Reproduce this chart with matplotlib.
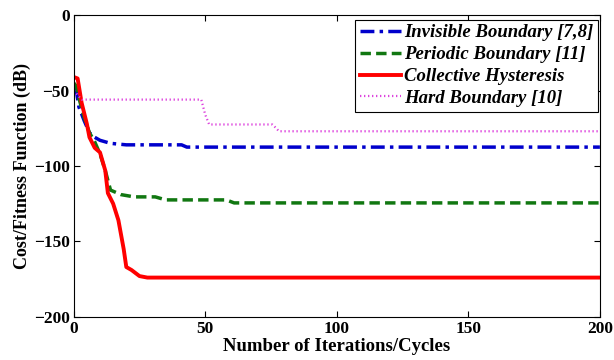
import matplotlib
matplotlib.use("Agg")
import matplotlib.pyplot as plt

# Invisible Boundary [7,8]
inv_x = [0, 1, 2, 4, 6, 8, 10, 14, 20, 30, 41, 43, 200]
inv_y = [-48, -50, -61, -70, -78, -81, -83, -85, -86, -86, -86, -87.5, -87.5]

# Periodic Boundary [11]
per_x = [0, 1, 2, 4, 6, 8, 10, 12, 14, 18, 23, 31, 35, 58, 61, 200]
per_y = [-45, -47, -55, -68, -78, -84, -92, -103, -116, -119, -120.5, -120.5, -122.5, -122.5, -124.5, -124.5]

# Collective Hysteresis
col_x = [0, 1.5, 3, 5, 6, 8, 10, 12, 13, 15, 17, 19, 20, 22, 25, 28, 60, 200]
col_y = [-41, -42, -58, -72, -81, -88, -91, -103, -118, -125, -136, -155, -167, -169, -173, -174, -174, -174]

# Hard Boundary [10]
hard_x = [0, 1, 3, 5, 48.5, 50, 51.5, 75.5, 77, 78, 200]
hard_y = [-50, -52, -56, -56, -56, -66, -72.5, -72.5, -75, -77, -77]

labels = ["Invisible Boundary [7,8]", "Periodic Boundary [11]",
          "Collective Hysteresis", "Hard Boundary [10]"]

serif = ["Liberation Serif", "DejaVu Serif"]

fig, ax = plt.subplots(figsize=(6.14, 3.6), dpi=100)
fig.subplots_adjust(left=0.12, right=0.977, top=0.958, bottom=0.12)

ax.plot(inv_x, inv_y, color="#0000cc", linestyle=(0, (4, 1.5, 1, 1.5)), linewidth=2.5, label=labels[0])
ax.plot(per_x, per_y, color="#117711", linestyle=(0, (3, 1.5)), linewidth=2.5, label=labels[1])
ax.plot(col_x, col_y, color="#ff0000", linestyle="-", linewidth=2.8, label=labels[2])
ax.plot(hard_x, hard_y, color="#dd44dd", linestyle=(0, (0.6, 1.2)), linewidth=1.6, label=labels[3])

ax.set_xlim(0, 200)
ax.set_ylim(-200, 0)
ax.set_xticks([0, 50, 100, 150, 200])
ax.set_yticks([0, -50, -100, -150, -200])
ax.tick_params(direction="in", top=True, right=True, length=4, width=0.8, pad=3)
for lab in ax.get_xticklabels() + ax.get_yticklabels():
    lab.set_family(serif)
    lab.set_fontweight("bold")
    lab.set_fontsize(12.5)

ax.set_xlabel("Number of Iterations/Cycles", family=serif, fontweight="bold", fontsize=13.5, labelpad=1)
ax.set_ylabel("Cost/Fitness Function (dB)", family=serif, fontweight="bold", fontsize=13, labelpad=2)

leg = ax.legend(loc="upper right", bbox_to_anchor=(0.996, 0.985),
                prop={"family": serif, "weight": "bold", "style": "italic", "size": 13.5},
                fancybox=False, edgecolor="black", framealpha=1, handlelength=2.2, handletextpad=0.15,
                borderpad=0.25, labelspacing=0.25, borderaxespad=0)
leg.get_frame().set_linewidth(0.8)

fig.savefig("out.png", dpi=100)
